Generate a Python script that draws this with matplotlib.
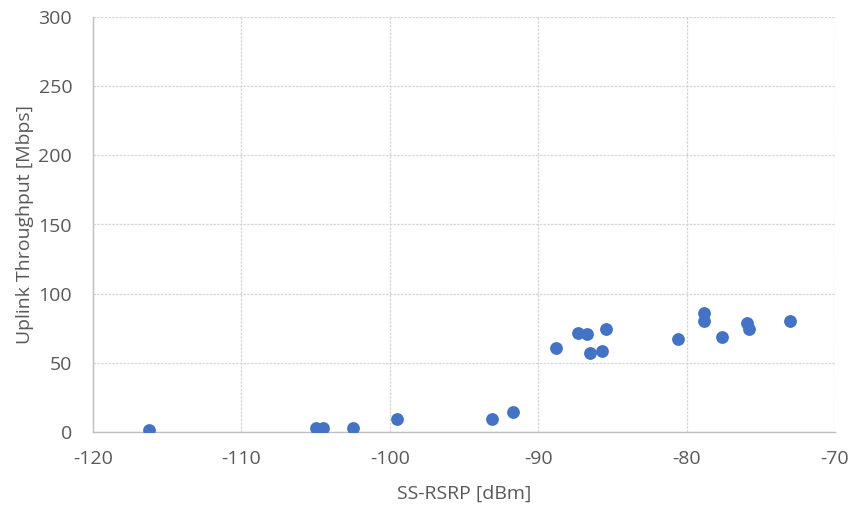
import matplotlib
matplotlib.use("Agg")
import matplotlib.pyplot as plt

rsrp = [-116.2, -105.0, -104.5, -102.5, -99.5, -93.1, -91.7,
        -88.8, -87.3, -86.7, -86.5, -85.7, -85.4, -80.6,
        -78.8, -78.8, -77.6, -75.9, -75.8, -73.0]
throughput = [1.5, 3, 3, 3, 9.2, 9.2, 14.2,
              61, 71.8, 70.6, 57.3, 58.6, 74.2, 67.5,
              86.3, 80.5, 68.9, 78.6, 74.2, 80.5]

xticks = [-120, -110, -100, -90, -80, -70]
yticks = [0, 50, 100, 150, 200, 250, 300]

plt.rcParams['font.family'] = ['Open Sans', 'DejaVu Sans']
plt.rcParams['axes.unicode_minus'] = False
txt = '#595959'
fs = 14

fig = plt.figure(figsize=(8.51, 5.11), dpi=100)
ax = fig.add_axes([93/851, 1-432/511, (835-93)/851, (432-17)/511])
ax.scatter(rsrp, throughput, s=85, color='#4472C4', zorder=3, linewidths=0)
ax.set_xlim(-120, -70)
ax.set_ylim(0, 300)
ax.set_xticks(xticks)
ax.set_yticks(yticks)
ax.grid(True, color='#D5D5D5', linestyle=(0, (2, 1)), linewidth=0.9)
ax.set_axisbelow(True)
for s in ['top', 'right']:
    ax.spines[s].set_visible(False)
for s in ['left', 'bottom']:
    ax.spines[s].set_color('#BFBFBF')
    ax.spines[s].set_linewidth(1.0)
ax.tick_params(length=0, colors=txt, labelsize=fs)
ax.tick_params(axis='x', pad=13)
ax.tick_params(axis='y', pad=15)
ax.set_xlabel('SS-RSRP [dBm]', color=txt, fontsize=fs, labelpad=12)
ax.set_ylabel('Uplink Throughput [Mbps]', color=txt, fontsize=fs, labelpad=3)
fig.savefig('out.png', dpi=100)
